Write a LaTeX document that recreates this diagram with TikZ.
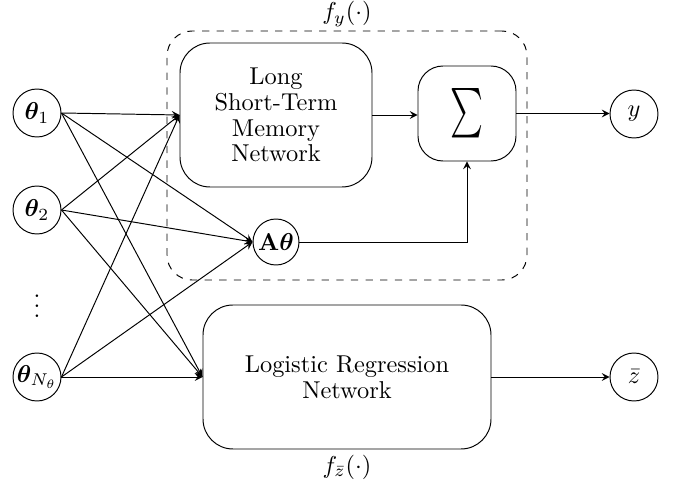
\documentclass[tikz,border=0pt]{standalone}
\usepackage{amsmath,bm}
\usetikzlibrary{arrows}
\begin{document}
\begin{tikzpicture}[x=0.41pt,y=-0.41pt,
  unit/.style={draw,circle,minimum size=48*0.41pt,inner sep=0pt},
  block/.style={draw,rounded corners=30*0.41pt,align=center,inner sep=0pt,
    font=\fontsize{10}{10.6}\selectfont},
  link/.style={-stealth}]
\useasboundingbox (0,0) rectangle (681,489);
% inputs
\node[unit] (t1) at (37,113) {$\bm{\theta}_1$};
\node[unit] (t2) at (37,210) {$\bm{\theta}_2$};
\node (dots) at (37,299) {$\vdots$};
\node[unit] (tn) at (37,377) {$\bm{\theta}_{N_\theta}$};
% f_y block
\node[draw,dashed,rounded corners=25*0.41pt,minimum width=360*0.41pt,minimum height=249*0.41pt] (fy) at (347,155.5) {};
\node[above,inner sep=1.5pt] (fylab) at (fy.north) {$f_y(\cdot)$};
\node[block,minimum width=192*0.41pt,minimum height=144*0.41pt] (lstm) at (276,115) {Long\\Short-Term\\Memory\\Network};
\node[block,rounded corners=25*0.41pt,minimum width=98*0.41pt,minimum height=95*0.41pt] (sum) at (467,113.5) {\resizebox{13.5pt}{15.2pt}{$\sum$}};
\node[unit,minimum size=46*0.41pt] (ath) at (276,242) {$\mathbf{A}\bm{\theta}$};
% f_z block
\node[block,minimum width=288*0.41pt,minimum height=144*0.41pt] (lr) at (347,377) {Logistic Regression\\Network};
\node[below,inner sep=2pt] (fzlab) at (lr.south) {$f_{\bar{z}}(\cdot)$};
% outputs
\node[unit] (y) at (634,114) {$y$};
\node[unit] (z) at (634,377) {$\bar{z}$};
% connections
\foreach \s in {t1,t2,tn}{
  \draw[link] (\s.east) -- (lstm.west);
  \draw[link] (\s.east) -- (ath.west);
  \draw[link] (\s.east) -- (lr.west);
}
\draw[link] (lstm.east) -- (lstm.east -| sum.west);
\draw[link] (sum.east) -- (sum.east -| y.west);
\draw[link] (ath.east) -| (sum.south);
\draw[link] (lr.east) -- (z.west);
\end{tikzpicture}
\end{document}
